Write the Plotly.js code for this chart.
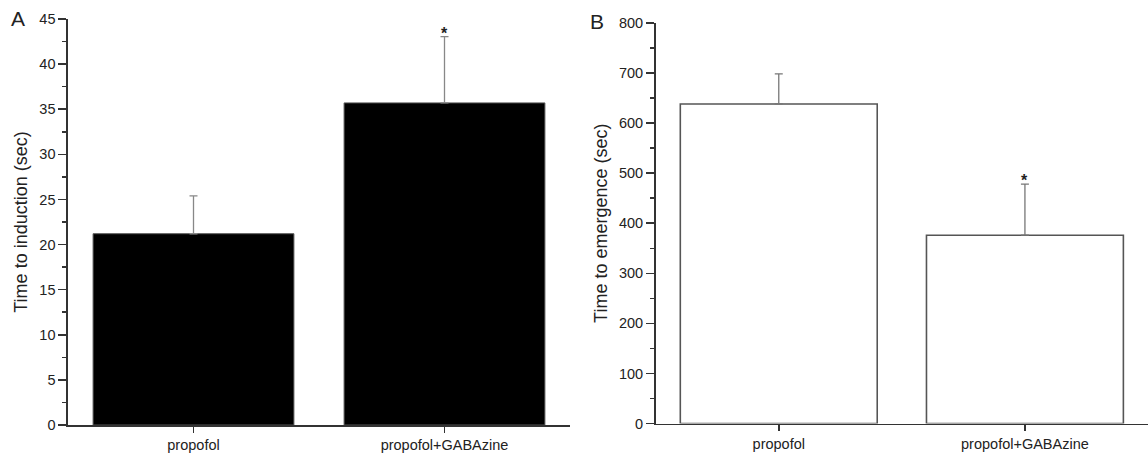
<!DOCTYPE html>
<html>
<head>
<meta charset="utf-8">
<script src="https://cdn.plot.ly/plotly-3.0.1.min.js"></script>
<style>html,body{margin:0;padding:0;background:#fff;}#chart{width:1148px;height:455px;}</style>
</head>
<body>
<div id="chart"></div>
<script>
var categories = ["propofol", "propofol+GABAzine"];
var inductionMean = [21.2, 35.7];
var inductionErr = [4.2, 7.35];
var emergenceMean = [638, 376];
var emergenceErr = [60, 102];
var starsA = ["", "*"];
var starsB = ["", "*"];

var axisColor = "#333";
var fam = "Liberation Sans, Arial, sans-serif";
var tickFont = {family: fam, size: 14.5, color: "#222"};
var xTickFont = {family: fam, size: 14.5, color: "#222"};

var traces = [
  {
    type: "bar", x: categories, y: inductionMean, xaxis: "x", yaxis: "y",
    width: 0.8,
    marker: {color: "#000", line: {color: "#555", width: 1}},
    error_y: {type: "data", symmetric: false, array: inductionErr, arrayminus: [0, 0], color: "#888", thickness: 1.3, width: 4},
    hoverinfo: "none"
  },
  {
    type: "bar", x: categories, y: emergenceMean, xaxis: "x2", yaxis: "y2",
    width: 0.8,
    marker: {color: "#fff", line: {color: "#555", width: 1.6}},
    error_y: {type: "data", symmetric: false, array: emergenceErr, arrayminus: [0, 0], color: "#777", thickness: 1.3, width: 4},
    hoverinfo: "none"
  }
];

var annotations = [];
var starFont = {family: fam, size: 16, color: "#222"};
for (var i = 0; i < categories.length; i++) {
  if (starsA[i]) annotations.push({xref: "x", yref: "y", x: categories[i], y: inductionMean[i] + inductionErr[i], text: "<b>" + starsA[i] + "</b>", showarrow: false, yanchor: "bottom", yshift: -7, font: starFont});
  if (starsB[i]) annotations.push({xref: "x2", yref: "y2", x: categories[i], y: emergenceMean[i] + emergenceErr[i], text: "<b>" + starsB[i] + "</b>", showarrow: false, yanchor: "bottom", yshift: -7, font: starFont});
}
annotations.push({xref: "paper", yref: "paper", x: 9/1148, y: 1 - 5/455, xanchor: "left", yanchor: "top", text: "A", showarrow: false, font: {family: fam, size: 21, color: "#222"}});
annotations.push({xref: "paper", yref: "paper", x: 588/1148, y: 1 - 8/455, xanchor: "left", yanchor: "top", text: "B", showarrow: false, font: {family: fam, size: 21, color: "#222"}});

function yax(domain, range, dtick, title, standoff) {
  return {
    domain: domain, range: range, dtick: dtick, tick0: 0,
    showgrid: false, zeroline: false, showline: true, linecolor: axisColor, linewidth: 1.6,
    ticks: "outside", ticklen: 8, tickwidth: 1.5, tickcolor: axisColor,
    minor: {dtick: dtick / 2, ticks: "outside", ticklen: 4, tickwidth: 1.5, tickcolor: axisColor},
    tickfont: tickFont, fixedrange: true,
    title: {text: title, font: {family: fam, size: 18, color: "#222"}, standoff: standoff}
  };
}
function xax(domain, anchor) {
  return {
    domain: domain, anchor: anchor, range: [-0.5, 1.5],
    showgrid: false, zeroline: false, showline: true, linecolor: axisColor, linewidth: 1.6,
    ticks: "outside", ticklen: 6, tickwidth: 1.5, tickcolor: axisColor,
    tickfont: xTickFont, fixedrange: true
  };
}

var layout = {
  width: 1148, height: 455,
  margin: {l: 0, r: 0, t: 0, b: 0},
  paper_bgcolor: "#fff", plot_bgcolor: "#fff",
  showlegend: false, bargap: 0.2,
  font: tickFont,
  xaxis: xax([68/1148, 570/1148], "y"),
  yaxis: yax([(455-425)/455, (455-19)/455], [0, 45], 5, "Time to induction (sec)", 7),
  xaxis2: xax([655.7/1148, 1], "y2"),
  yaxis2: yax([(455-423.6)/455, (455-22.8)/455], [0, 800], 100, "Time to emergence (sec)", 6),
  annotations: annotations
};
layout.yaxis.anchor = "x";
layout.yaxis2.anchor = "x2";

Plotly.newPlot("chart", traces, layout, {displayModeBar: false, staticPlot: true});
</script>
</body>
</html>
